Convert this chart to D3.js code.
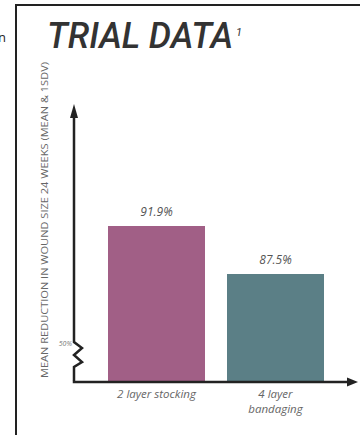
<!DOCTYPE html>
<html><head><meta charset="utf-8">
<script src="https://cdn.jsdelivr.net/npm/d3@7"></script>
<style>html,body{margin:0;padding:0;background:#fff;}svg{display:block;}</style>
</head><body>
<script>
const categories = [["2 layer stocking"], ["4 layer", "bandaging"]];
const values = [91.9, 87.5];
const valueLabels = ["91.9%", "87.5%"];
const colors = ["#a15f86", "#5b7f86"];
const breakLabel = "50%";
const title = "TRIAL DATA";
const titleNote = "1";
const yTitle = "MEAN REDUCTION IN WOUND SIZE 24 WEEKS (MEAN & 1SDV)";

const W = 360, H = 435;
const svg = d3.select("body").append("svg").attr("width", W).attr("height", H);

// frame
svg.append("path").attr("d", `M16,${H} V5 H${W}`).attr("fill", "none").attr("stroke", "#222").attr("stroke-width", 2);
// cut-off neighbour text
svg.append("text").attr("x", -2).attr("y", 42).attr("font-family", "Open Sans, sans-serif").attr("font-size", 13).attr("fill", "#222").text("n");

// title
svg.append("text").attr("x", 47).attr("y", 48)
  .attr("font-family", "Roboto, Liberation Sans, sans-serif").attr("font-weight", 500)
  .attr("font-style", "italic").attr("font-size", 36).attr("fill", "#333")
  .attr("textLength", 186).attr("lengthAdjust", "spacingAndGlyphs").text(title);
svg.append("text").attr("x", 236).attr("y", 36).attr("font-family", "Roboto, Liberation Sans, sans-serif")
  .attr("font-style", "italic").attr("font-size", 11).attr("fill", "#333").text(titleNote);

// scales
const x0 = 74, baseY = 382;
const x = d3.scaleBand().domain(d3.range(values.length)).range([108, 324]).paddingInner(0.185).paddingOuter(0);
const y = d3.scaleLinear().domain([87.5, 91.9]).range([274, 226]);

// bars
svg.selectAll("rect.bar").data(values).join("rect").attr("class", "bar")
  .attr("x", (d, i) => x(i)).attr("width", x.bandwidth())
  .attr("y", d => y(d)).attr("height", d => baseY - y(d))
  .attr("fill", (d, i) => colors[i]);

// value labels
svg.selectAll("text.val").data(values).join("text").attr("class", "val")
  .attr("x", (d, i) => x(i) + x.bandwidth() / 2).attr("y", d => y(d) - 10)
  .attr("text-anchor", "middle").attr("font-family", "Open Sans, sans-serif").attr("font-style", "italic")
  .attr("font-size", 12).attr("fill", "#555").text((d, i) => valueLabels[i]);

// category labels
categories.forEach((lines, i) => {
  const tx = svg.append("text").attr("text-anchor", "middle").attr("font-family", "Open Sans, sans-serif")
    .attr("font-style", "italic").attr("font-size", 11.5).attr("fill", "#666");
  lines.forEach((l, j) => tx.append("tspan").attr("x", x(i) + x.bandwidth() / 2).attr("y", 398 + j * 15).text(l));
});

// axes
const axisCol = "#222";
svg.append("path").attr("d", `M${x0},${baseY - 1} V367 L82,362 L74,355 L82,348 L${x0},342 V114`)
  .attr("fill", "none").attr("stroke", axisCol).attr("stroke-width", 2.5).attr("stroke-linejoin", "miter");
svg.append("path").attr("d", `M${x0 - 4},118 L${x0},104 L${x0 + 4},118 Z`).attr("fill", axisCol);
svg.append("path").attr("d", `M${x0 - 1.25},${baseY} H350`).attr("fill", "none").attr("stroke", axisCol).attr("stroke-width", 2.5);
svg.append("path").attr("d", `M347,${baseY - 4.5} L358,${baseY} L347,${baseY + 4.5} Z`).attr("fill", axisCol);

// break label
svg.append("text").attr("x", 72).attr("y", 346).attr("text-anchor", "end").attr("font-family", "Open Sans, sans-serif")
  .attr("font-style", "italic").attr("font-size", 7).attr("fill", "#777").text(breakLabel);

// y title
svg.append("text").attr("transform", "translate(48,378) rotate(-90)").attr("x", 0).attr("y", 0)
  .attr("font-family", "Open Sans, sans-serif").attr("font-size", 9.5).attr("fill", "#666")
  .attr("textLength", 316).attr("lengthAdjust", "spacingAndGlyphs").text(yTitle);
</script>
</body></html>
